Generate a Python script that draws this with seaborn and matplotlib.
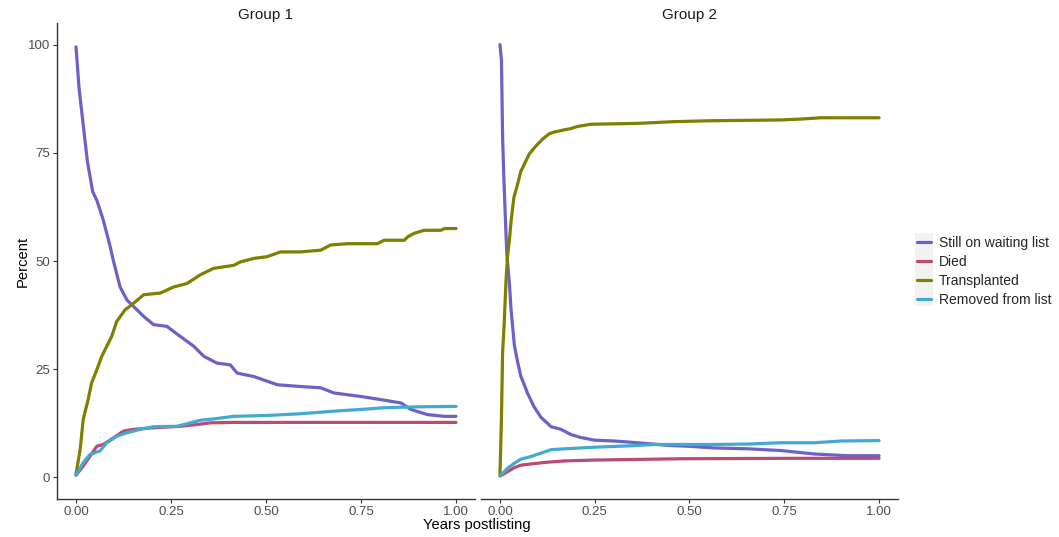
import numpy as np
import pandas as pd
import matplotlib
matplotlib.use("Agg")
import matplotlib.pyplot as plt
from matplotlib.patches import Rectangle
from matplotlib.lines import Line2D
import seaborn as sns

series_names = ["Still on waiting list", "Died", "Transplanted", "Removed from list"]
colors = ["#6A62C8", "#BA4B74", "#7F7F00", "#42A9D5"]

# ---- Group 1 ----
g1_still_t = [0.0, 0.008, 0.017, 0.03, 0.044, 0.055, 0.072, 0.09, 0.098, 0.116, 0.134, 0.178, 0.204, 0.239,
              0.274, 0.31, 0.336, 0.371, 0.406, 0.424, 0.468, 0.53, 0.59, 0.644, 0.679, 0.749, 0.80,
              0.855, 0.881, 0.925, 0.97, 1.0]
g1_still_v = [99.5, 90, 83, 73, 66, 64, 59.4, 53.3, 50.2, 44, 41, 37.2, 35.3, 34.9,
              32.6, 30.3, 28, 26.4, 26, 24.1, 23.3, 21.4, 21, 20.7, 19.5, 18.7, 18,
              17.2, 15.7, 14.5, 14.1, 14.1]

g1_died_t = [0.0, 0.019, 0.037, 0.055, 0.072, 0.098, 0.125, 0.151, 0.195, 0.274, 0.318, 0.354, 0.415, 1.0]
g1_died_v = [0.5, 2.6, 4.9, 7.2, 7.6, 9.1, 10.7, 11.1, 11.4, 11.8, 12.2, 12.6, 12.7, 12.7]

g1_tx_t = [0.0, 0.011, 0.019, 0.032, 0.041, 0.055, 0.068, 0.081, 0.094, 0.107, 0.129, 0.151, 0.178,
           0.222, 0.257, 0.292, 0.327, 0.362, 0.415, 0.433, 0.468, 0.503, 0.538, 0.59, 0.644,
           0.67, 0.714, 0.793, 0.811, 0.864, 0.873, 0.89, 0.916, 0.96, 0.97, 1.0]
g1_tx_v = [0.7, 6.5, 13.4, 18, 21.8, 24.9, 28, 30.3, 32.6, 36, 38.7, 40.2, 42.2,
           42.6, 44, 44.8, 46.8, 48.3, 49, 49.8, 50.6, 51, 52.1, 52.1, 52.5,
           53.7, 54, 54, 54.8, 54.8, 55.6, 56.4, 57.1, 57.1, 57.5, 57.5]

g1_rem_t = [0.0, 0.019, 0.037, 0.063, 0.081, 0.107, 0.134, 0.169, 0.204, 0.266, 0.292, 0.327, 0.362,
            0.415, 0.503, 0.59, 0.679, 0.767, 0.811, 0.899, 1.0]
g1_rem_v = [0.5, 3.4, 5.3, 6.1, 8, 9.5, 10.3, 11.1, 11.7, 11.8, 12.4, 13.2, 13.5,
            14.1, 14.3, 14.7, 15.3, 15.8, 16.1, 16.3, 16.4]

# ---- Group 2 ----
g2_still_t = [0.0, 0.004, 0.007, 0.01, 0.013, 0.018, 0.025, 0.029, 0.038, 0.047, 0.055, 0.073, 0.09,
              0.108, 0.135, 0.161, 0.187, 0.214, 0.249, 0.302, 0.363, 0.442, 0.495, 0.565, 0.654,
              0.741, 0.829, 0.917, 1.0]
g2_still_v = [100, 96.4, 78.6, 69.9, 62.8, 51.8, 44.7, 39.1, 30.5, 26.5, 23.4, 19.4, 16.3,
              13.9, 11.7, 11.1, 9.9, 9.2, 8.6, 8.4, 8.0, 7.4, 7.2, 6.8, 6.6,
              6.2, 5.4, 5.0, 5.0]

g2_died_t = [0.0, 0.02, 0.037, 0.055, 0.081, 0.125, 0.17, 0.249, 0.477, 0.767, 1.0]
g2_died_v = [0.3, 1.3, 2.2, 2.8, 3.1, 3.5, 3.8, 4.0, 4.3, 4.4, 4.4]

g2_tx_t = [0.0, 0.004, 0.007, 0.011, 0.016, 0.02, 0.025, 0.029, 0.033, 0.037, 0.046, 0.055, 0.064,
           0.077, 0.095, 0.113, 0.13, 0.143, 0.169, 0.187, 0.205, 0.24, 0.363, 0.459, 0.547,
           0.741, 0.794, 0.846, 1.0]
g2_tx_v = [0.5, 13.9, 28.9, 35.2, 45.5, 51, 54.9, 58.9, 62, 64.8, 67.6, 70.7, 72.3,
           74.7, 76.6, 78.2, 79.4, 79.8, 80.3, 80.6, 81.1, 81.6, 81.8, 82.2, 82.4,
           82.6, 82.8, 83.1, 83.1]

g2_rem_t = [0.0, 0.011, 0.02, 0.037, 0.055, 0.081, 0.108, 0.135, 0.17, 0.214, 0.258, 0.346, 0.408,
            0.566, 0.654, 0.741, 0.829, 0.9, 1.0]
g2_rem_v = [0.3, 1.3, 2.1, 3.2, 4.2, 4.8, 5.6, 6.4, 6.6, 6.8, 7.0, 7.3, 7.6,
            7.6, 7.7, 8.0, 8.0, 8.4, 8.5]

groups = ["Group 1", "Group 2"]
x_ticks = [0.0, 0.25, 0.5, 0.75, 1.0]
x_ticklabels = ["0.00", "0.25", "0.50", "0.75", "1.00"]
y_ticks = [0, 25, 50, 75, 100]
y_ticklabels = ["0", "25", "50", "75", "100"]

data = {
    "Group 1": [(g1_still_t, g1_still_v), (g1_died_t, g1_died_v), (g1_tx_t, g1_tx_v), (g1_rem_t, g1_rem_v)],
    "Group 2": [(g2_still_t, g2_still_v), (g2_died_t, g2_died_v), (g2_tx_t, g2_tx_v), (g2_rem_t, g2_rem_v)],
}

rows = []
for g in groups:
    for name, (t, v) in zip(series_names, data[g]):
        for ti, vi in zip(t, v):
            rows.append({"group": g, "status": name, "years": ti, "percent": vi})
df = pd.DataFrame(rows)

sns.set_theme(style="white")
plt.rcParams["font.family"] = ["Liberation Sans", "DejaVu Sans"]

W, H = 1059, 537
fig = plt.figure(figsize=(W / 100, H / 100), dpi=100)

def fx(px):
    return px / W

def fy(py):
    return 1 - py / H

panel_px = [(57, 475), (481, 898)]
top_px, bot_px = 23, 499
palette = dict(zip(series_names, colors))

axes = []
for i, g in enumerate(groups):
    l, r = panel_px[i]
    ax = fig.add_axes([fx(l), fy(bot_px), (r - l) / W, (bot_px - top_px) / H])
    sub = df[df["group"] == g]
    sns.lineplot(data=sub, x="years", y="percent", hue="status", hue_order=series_names,
                 palette=palette, estimator=None, linewidth=2.3,
                 legend=False, ax=ax)
    ax.set_xlim(-0.05, 1.05)
    ax.set_ylim(-5, 105)
    ax.set_xticks(x_ticks)
    ax.set_xticklabels(x_ticklabels)
    ax.set_yticks(y_ticks)
    ax.set_xlabel("")
    ax.set_ylabel("")
    for s in ["top", "right"]:
        ax.spines[s].set_visible(False)
    ax.spines["bottom"].set_color("#333333")
    ax.spines["bottom"].set_linewidth(1.0)
    ax.tick_params(axis="both", which="both", length=3, width=0.8, color="#333333",
                   labelsize=9.5, labelcolor="#4D4D4D", pad=2, bottom=True, left=(i == 0))
    if i == 0:
        ax.set_yticklabels(y_ticklabels)
        ax.spines["left"].set_color("#333333")
        ax.spines["left"].set_linewidth(1.0)
    else:
        ax.spines["left"].set_visible(False)
        ax.set_yticklabels([])
        ax.tick_params(axis="y", left=False)
    ax.set_facecolor("white")
    ax.grid(False)
    ax.set_title(g, fontsize=11, color="#1A1A1A", pad=3)
    axes.append(ax)

fig.text(fx(477), fy(525), "Years postlisting", ha="center", va="center", fontsize=10.6, color="black")
fig.text(fx(23), fy(261), "Percent", ha="center", va="center", rotation=90, fontsize=10.6, color="black")

# legend with grey key backgrounds
fig.patches.append(Rectangle((fx(915), fy(306)), 18 / W, 73 / H, transform=fig.transFigure,
                             facecolor="#F2F2F2", edgecolor="none", zorder=0))
handles = [Line2D([0], [0], color=c, lw=2.3) for c in colors]
fig.legend(handles, series_names, loc="center left", bbox_to_anchor=(fx(917), fy(271.5)),
           frameon=False, fontsize=10, handlelength=1.0, handletextpad=0.55,
           labelspacing=0.35, borderaxespad=0, borderpad=0)

fig.savefig("out.png", dpi=100, facecolor="white")
